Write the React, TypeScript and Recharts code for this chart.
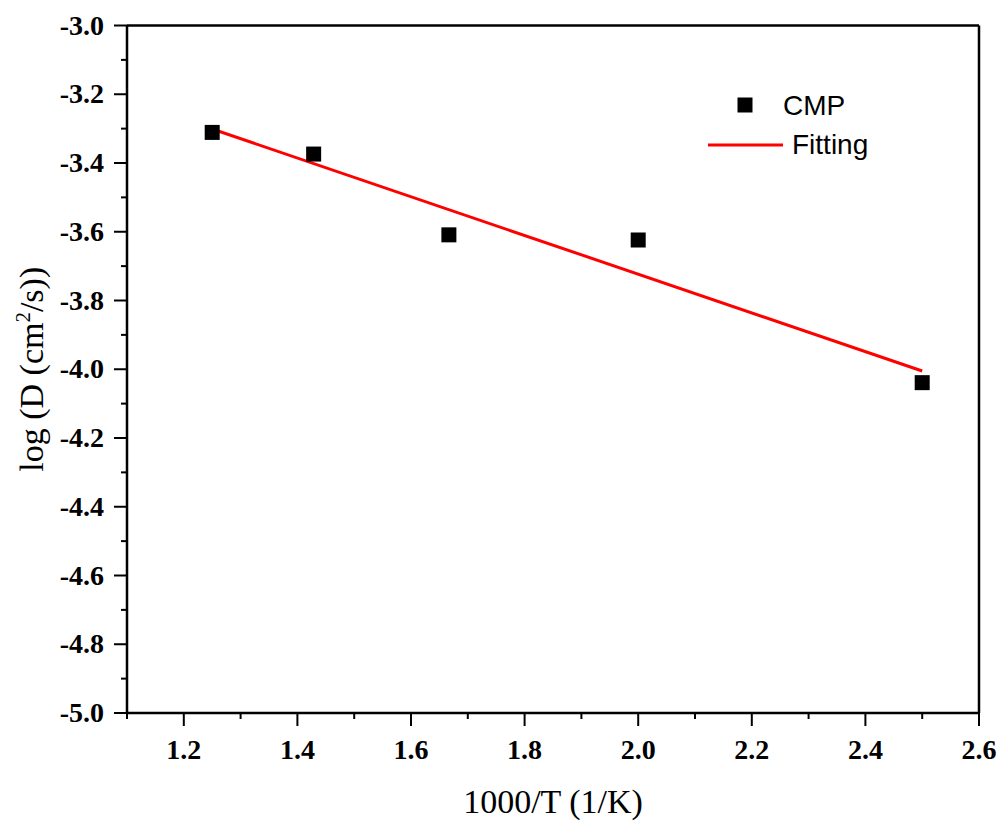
import React from 'react';
import { ScatterChart, Scatter, XAxis, YAxis } from 'recharts';

// Data
const inverseT = [1.25, 1.4286, 1.6667, 2.0, 2.5];
const logD = [-3.311, -3.374, -3.609, -3.624, -4.039];
const fitX = [1.25, 2.5];
const fitY = [-3.301, -4.005];

// Ticks
const xTicks = [1.1, 1.2, 1.3, 1.4, 1.5, 1.6, 1.7, 1.8, 1.9, 2.0, 2.1, 2.2, 2.3, 2.4, 2.5, 2.6];
const xLabels = ['1.2', '1.4', '1.6', '1.8', '2.0', '2.2', '2.4', '2.6'];
const yTicks = [-5.0, -4.9, -4.8, -4.7, -4.6, -4.5, -4.4, -4.3, -4.2, -4.1, -4.0, -3.9, -3.8, -3.7, -3.6, -3.5, -3.4, -3.3, -3.2, -3.1, -3.0];
const yLabels = ['-5.0', '-4.8', '-4.6', '-4.4', '-4.2', '-4.0', '-3.8', '-3.6', '-3.4', '-3.2', '-3.0'];

const cmpData = inverseT.map((x, i) => ({ x, y: logD[i] }));
const fitData = fitX.map((x, i) => ({ x, y: fitY[i] }));

const SERIF = '"Liberation Serif", "Times New Roman", serif';
const SANS = '"Liberation Sans", Arial, sans-serif';

const XTick = (props: any) => {
  const { x, y, payload } = props;
  const label = Number(payload.value).toFixed(1);
  const major = xLabels.includes(label);
  return (
    <g>
      <line x1={x} y1={y} x2={x} y2={y + (major ? 13 : 6)} stroke="#000" strokeWidth={2} />
      {major && (
        <text x={x} y={y + 46} textAnchor="middle" fontFamily={SERIF} fontWeight="bold" fontSize={28} fill="#000">
          {label}
        </text>
      )}
    </g>
  );
};

const YTick = (props: any) => {
  const { x, y, payload } = props;
  const label = Number(payload.value).toFixed(1);
  const major = yLabels.includes(label);
  return (
    <g>
      <line x1={x} y1={y} x2={x - (major ? 13 : 6)} y2={y} stroke="#000" strokeWidth={2} />
      {major && (
        <text x={x - 23} y={y + 9} textAnchor="end" fontFamily={SERIF} fontWeight="bold" fontSize={28} fill="#000">
          {label}
        </text>
      )}
    </g>
  );
};

const SquareDot = (props: any) => {
  const { cx, cy } = props;
  return <rect x={cx - 7.5} y={cy - 7.5} width={15} height={15} fill="#000" />;
};

const NoDot = () => <g />;

const XTitle = (props: any) => {
  const vb = props.viewBox || { x: 0, y: 0, width: 0, height: 0 };
  return (
    <text x={vb.x + vb.width / 2} y={vb.y + 100} textAnchor="middle" fontFamily={SERIF} fontSize={34} fill="#000">
      1000/T (1/K)
    </text>
  );
};

const YTitle = (props: any) => {
  const vb = props.viewBox || { x: 0, y: 0, width: 0, height: 0 };
  const cx = vb.x + vb.width - 84;
  const cy = vb.y + vb.height / 2;
  return (
    <text
      x={cx}
      y={cy}
      transform={`rotate(-90 ${cx} ${cy})`}
      textAnchor="middle"
      fontFamily={SERIF}
      fontSize={34}
      fill="#000"
    >
      log (D (cm<tspan dy={-13} fontSize={21}>2</tspan>
      <tspan dy={13}>/s))</tspan>
    </text>
  );
};

const LegendBox = () => (
  <svg width={260} height={100} style={{ position: 'absolute', left: 690, top: 80 }}>
    <rect x={47.5} y={17.5} width={15} height={15} fill="#000" />
    <text x={93} y={35} fontFamily={SANS} fontSize={28} fill="#000">CMP</text>
    <line x1={18} y1={65} x2={93} y2={65} stroke="#ff0000" strokeWidth={3} />
    <text x={102} y={74} fontFamily={SANS} fontSize={28} fill="#000">Fitting</text>
  </svg>
);

export default function App() {
  return (
    <div style={{ position: 'absolute', left: 0, top: 0, width: 1003, height: 825, background: '#fff' }}>
      <ScatterChart width={1003} height={825} margin={{ top: 24.5, right: 23, bottom: 0, left: 0 }}>
        <XAxis
          dataKey="x"
          type="number"
          domain={[1.1, 2.6]}
          ticks={xTicks}
          interval={0}
          allowDataOverflow
          height={112}
          tickSize={0}
          tickMargin={0}
          tickLine={false}
          tick={<XTick />}
          axisLine={{ stroke: '#000', strokeWidth: 2.5 }}
          label={<XTitle />}
        />
        <XAxis
          xAxisId="top"
          orientation="top"
          type="number"
          domain={[1.1, 2.6]}
          height={1}
          tick={false}
          tickLine={false}
          axisLine={{ stroke: '#000', strokeWidth: 2.5 }}
        />
        <YAxis
          dataKey="y"
          type="number"
          domain={[-5, -3]}
          ticks={yTicks}
          interval={0}
          allowDataOverflow
          width={127}
          tickSize={0}
          tickMargin={0}
          tickLine={false}
          tick={<YTick />}
          axisLine={{ stroke: '#000', strokeWidth: 2.5 }}
          label={<YTitle />}
        />
        <YAxis
          yAxisId="right"
          orientation="right"
          type="number"
          domain={[-5, -3]}
          width={1}
          tick={false}
          tickLine={false}
          axisLine={{ stroke: '#000', strokeWidth: 2.5 }}
        />
        <Scatter
          name="Fitting"
          data={fitData}
          line={{ stroke: '#ff0000', strokeWidth: 3 }}
          shape={<NoDot />}
          isAnimationActive={false}
        />
        <Scatter name="CMP" data={cmpData} shape={<SquareDot />} isAnimationActive={false} />
      </ScatterChart>
      <LegendBox />
    </div>
  );
}
